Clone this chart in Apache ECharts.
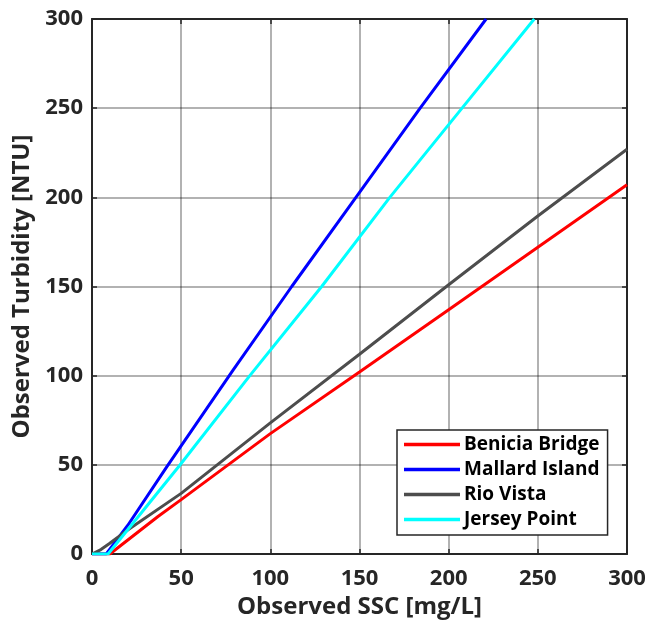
<!DOCTYPE html>
<html>
<head>
<meta charset="utf-8">
<script src="https://cdn.jsdelivr.net/npm/echarts@6/dist/echarts.min.js"></script>
<style>
  html, body { margin: 0; padding: 0; background: #ffffff; }
  #chart { width: 657px; height: 621px; }
</style>
</head>
<body>
<div id="chart"></div>
<script>
// Turbidity vs. suspended sediment concentration relationships per station
const stationNames = ['Benicia Bridge', 'Mallard Island', 'Rio Vista', 'Jersey Point'];
const stationColors = ['#ff0000', '#0000ff', '#4d4d4d', '#00ffff'];

// Observed SSC [mg/L] (x) and turbidity [NTU] (y) along each curve
const beniciaSSC  = [0, 10, 37, 50, 100, 150, 200, 250, 300];
const beniciaNTU  = [0, 0, 21, 30.5, 67.5, 102, 137, 172, 207];

const mallardSSC  = [0, 8, 20, 42, 79, 112, 148, 184, 221];
const mallardNTU  = [0, 0, 16, 49, 103, 150, 200, 250, 300];

const rioVistaSSC = [0, 5, 10, 20, 50, 100, 150, 200, 250, 300];
const rioVistaNTU = [0, 2.5, 6, 13.5, 34, 73.5, 112, 151, 189.5, 227];

const jerseySSC   = [0, 9, 49, 88.5, 128.8, 167, 207.5, 248];
const jerseyNTU   = [0, 0, 49.5, 100, 150, 200, 250, 300];

// Axis ticks
const xTicks = [0, 50, 100, 150, 200, 250, 300];
const yTicks = [0, 50, 100, 150, 200, 250, 300];

const pairs = (xs, ys) => xs.map((x, i) => [x, ys[i]]);
const curves = [
  pairs(beniciaSSC, beniciaNTU),
  pairs(mallardSSC, mallardNTU),
  pairs(rioVistaSSC, rioVistaNTU),
  pairs(jerseySSC, jerseyNTU)
];

const FONT = "'Open Sans', 'DejaVu Sans', sans-serif";
const INK = '#262626';

const tickStep = xTicks[1] - xTicks[0];
const baseAxis = {
  type: 'value',
  min: xTicks[0],
  max: xTicks[xTicks.length - 1],
  interval: tickStep,
  axisLine: { show: true, onZero: false, lineStyle: { color: INK, width: 2 } },
  axisTick: { show: true, inside: true, length: 5, lineStyle: { color: INK, width: 1.5 } },
  splitLine: { show: false },
  axisLabel: { show: false }
};
const labelStyle = {
  show: true,
  fontFamily: FONT,
  fontWeight: 'bold',
  fontSize: 22,
  color: INK
};
const gridLine = { show: true, lineStyle: { color: 'rgba(0,0,0,0.3)', width: 2 } };

const chart = echarts.init(document.getElementById('chart'), null, { renderer: 'canvas' });
chart.setOption({
  backgroundColor: '#ffffff',
  animation: false,
  grid: { left: 92, right: 30, top: 19, bottom: 67, containLabel: false, outerBoundsMode: 'none' },
  xAxis: [
    Object.assign({}, baseAxis, {
      position: 'bottom',
      splitLine: gridLine,
      axisLabel: Object.assign({ margin: 14 }, labelStyle),
      name: 'Observed SSC [mg/L]',
      nameLocation: 'middle',
      nameGap: 38,
      nameTextStyle: { fontFamily: FONT, fontWeight: 'bold', fontSize: 24, color: INK }
    }),
    Object.assign({}, baseAxis, { position: 'top' })
  ],
  yAxis: [
    Object.assign({}, baseAxis, {
      min: yTicks[0],
      max: yTicks[yTicks.length - 1],
      position: 'left',
      splitLine: gridLine,
      axisLabel: Object.assign({ margin: 9 }, labelStyle),
      name: 'Observed Turbidity [NTU]',
      nameLocation: 'middle',
      nameGap: 47,
      nameTextStyle: { fontFamily: FONT, fontWeight: 'bold', fontSize: 24, color: INK }
    }),
    Object.assign({}, baseAxis, {
      min: yTicks[0],
      max: yTicks[yTicks.length - 1],
      position: 'right'
    })
  ],
  legend: {
    orient: 'vertical',
    left: 397,
    top: 430,
    backgroundColor: '#ffffff',
    borderColor: INK,
    borderWidth: 1.5,
    borderRadius: 0,
    padding: [5, 8, 6, 7],
    itemWidth: 56,
    itemHeight: 3.5,
    itemGap: 6,
    icon: 'rect',
    data: stationNames,
    textStyle: { fontFamily: FONT, fontWeight: 'bold', fontSize: 19, lineHeight: 19, color: '#000000', padding: [0, 0, 0, -1] }
  },
  series: stationNames.map((name, i) => ({
    name: name,
    type: 'line',
    xAxisIndex: 0,
    yAxisIndex: 0,
    data: curves[i],
    symbol: 'none',
    smooth: false,
    clip: true,
    color: stationColors[i],
    lineStyle: { color: stationColors[i], width: 3 },
    z: 3 + i
  }))
});
</script>
</body>
</html>
